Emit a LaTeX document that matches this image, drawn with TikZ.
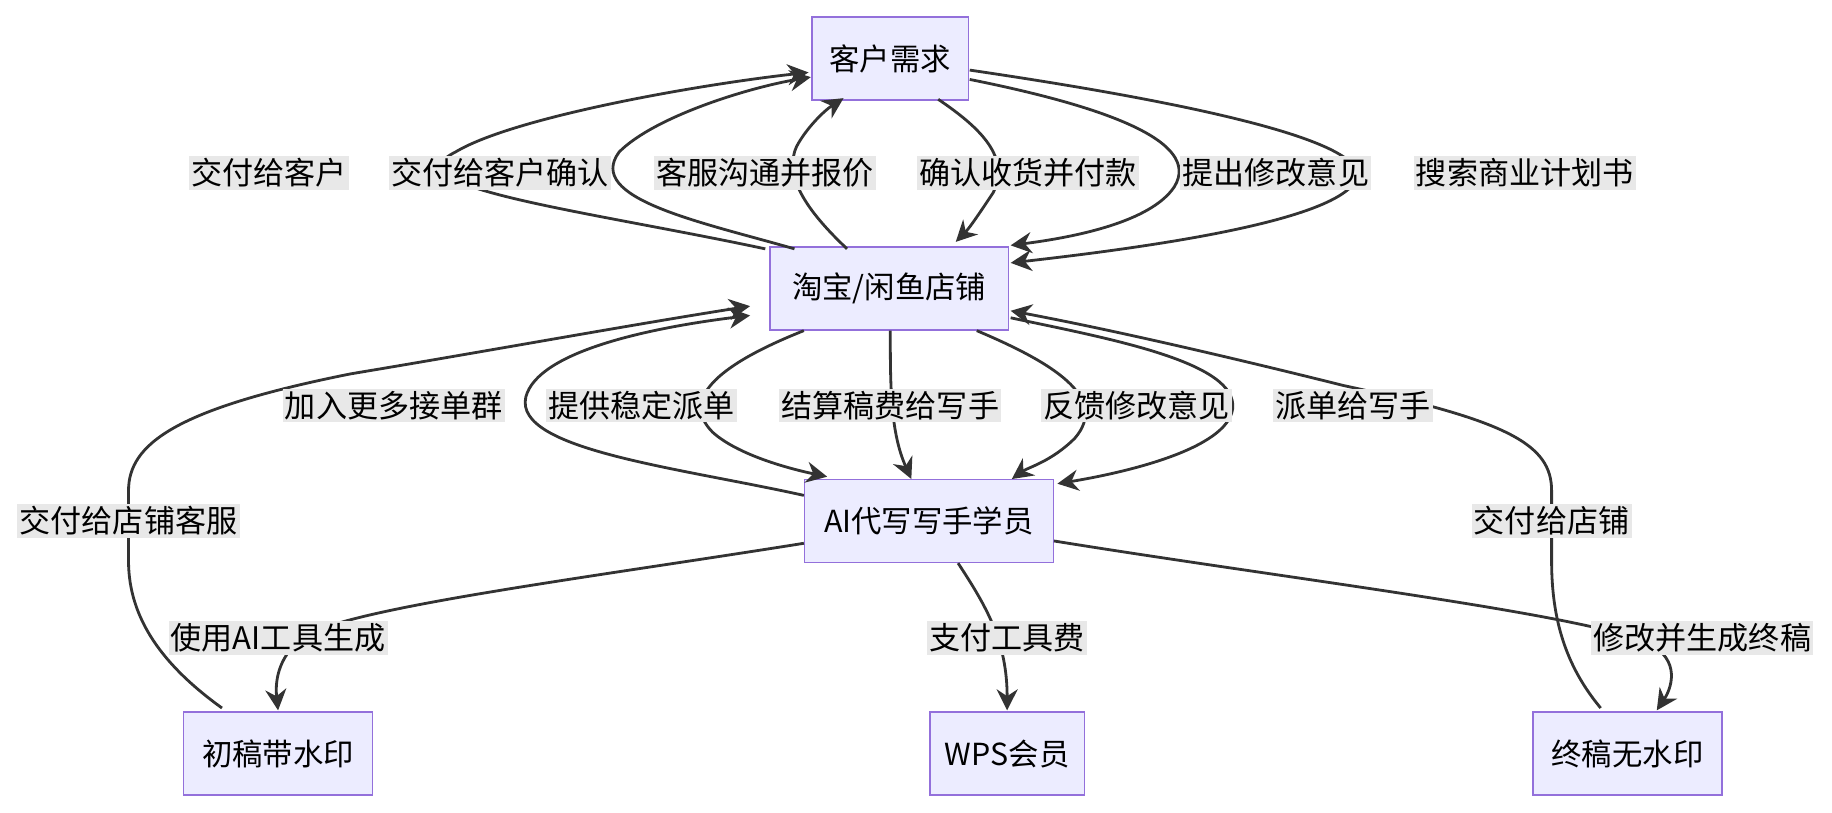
\documentclass[tikz,border=0pt]{standalone}
\usepackage{fontspec}
\setmainfont{Noto Sans CJK SC}
\usetikzlibrary{arrows.meta}
\definecolor{boxfill}{HTML}{ECECFF}
\definecolor{boxline}{HTML}{9370DB}
\definecolor{lblbg}{HTML}{E8E8E8}
\definecolor{edge}{HTML}{333333}
\begin{document}
\begin{tikzpicture}[x=0.5pt,y=-0.5pt,
  box/.style={draw=boxline,fill=boxfill,line width=0.6pt,minimum height=35.5pt,inner xsep=6pt,font=\fontsize{13pt}{15pt}\selectfont},
  lbl/.style={fill=lblbg,inner sep=1pt,font=\fontsize{13.3pt}{15pt}\selectfont},
  e/.style={draw=edge,line width=1.2pt,-{Stealth[length=9pt,width=9pt]}},
  l/.style={draw=edge,line width=1.2pt}]
\useasboundingbox (0,0) rectangle (1568,695);
\node [box,minimum width=67pt] (need) at (762,50) {客户需求};
\node [box,minimum width=102pt] (shop) at (761,247) {淘宝/闲鱼店铺};
\node [box,minimum width=106.5pt] (ai) at (795,446) {AI代写写手学员};
\node [box,minimum width=81pt] (draft) at (238,645) {初稿带水印};
\node [box,minimum width=66pt] (wps) at (862,645) {WPS会员};
\node [box,minimum width=81pt] (final) at (1393,645) {终稿无水印};
% shop <-> need
\draw [e] (655,213) .. controls (500,180) and (330,160) .. (390,130) .. controls (440,100) and (600,72) .. (692,62);
\draw [e] (680,213) .. controls (600,190) and (500,170) .. (530,130) .. controls (560,100) and (640,75) .. (694,66);
\draw [e] (725,213) .. controls (690,180) and (670,150) .. (682,125) .. controls (690,110) and (705,95) .. (722,84);
\draw [e] (803,85) .. controls (840,110) and (865,135) .. (850,165) .. controls (840,180) and (830,195) .. (818,207);
\draw [e] (830,68) .. controls (940,90) and (1030,120) .. (1005,160) .. controls (985,190) and (920,203) .. (865,210);
\draw [e] (830,60) .. controls (1000,85) and (1180,120) .. (1160,155) .. controls (1140,190) and (980,212) .. (865,225);
% shop <-> ai
\draw [e] (190,606) .. controls (140,570) and (110,530) .. (110,480) -- (110,420) .. controls (110,380) and (150,350) .. (300,320) .. controls (420,300) and (540,278) .. (642,262);
\draw [e] (688,424) .. controls (580,400) and (440,385) .. (450,340) .. controls (460,300) and (560,280) .. (642,270);
\draw [e] (688,283) .. controls (620,310) and (580,340) .. (610,370) .. controls (630,388) and (670,400) .. (708,408);
\draw [e] (762,283) .. controls (762,330) and (762,370) .. (780,410);
\draw [e] (836,283) .. controls (900,310) and (950,340) .. (920,375) .. controls (900,395) and (880,400) .. (866,410);
\draw [e] (865,272) .. controls (950,290) and (1060,310) .. (1055,350) .. controls (1050,385) and (960,405) .. (905,414);
\draw [e] (1370,606) .. controls (1340,570) and (1328,530) .. (1328,480) -- (1328,420) .. controls (1328,380) and (1290,360) .. (1150,330) .. controls (1050,305) and (950,282) .. (865,266);
% ai -> outputs
\draw [e] (688,465) .. controls (500,495) and (300,520) .. (260,545) .. controls (240,560) and (235,580) .. (238,608);
\draw [e] (820,482) .. controls (845,520) and (862,550) .. (862,608);
\draw [e] (902,463) .. controls (1100,495) and (1350,525) .. (1410,550) .. controls (1440,565) and (1430,590) .. (1418,608);
% labels
\node [lbl] (t1) at (230,148) {交付给客户};
\node [lbl] (t2) at (428,148) {交付给客户确认};
\node [lbl] (t3) at (655,148) {客服沟通并报价};
\node [lbl] (t4) at (880,148) {确认收货并付款};
\node [lbl] (t5) at (1092,148) {提出修改意见};
\node [lbl] (t6) at (1305,148) {搜索商业计划书};
\node [lbl] (t7) at (337,347) {加入更多接单群};
\node [lbl] (t8) at (549,347) {提供稳定派单};
\node [lbl] (t9) at (762,347) {结算稿费给写手};
\node [lbl] (t10) at (973,347) {反馈修改意见};
\node [lbl] (t11) at (1158,347) {派单给写手};
\node [lbl] (t12) at (110,446) {交付给店铺客服};
\node [lbl] (t13) at (1328,446) {交付给店铺};
\node [lbl] (t14) at (238,546) {使用AI工具生成};
\node [lbl] (t15) at (862,546) {支付工具费};
\node [lbl] (t16) at (1457,546) {修改并生成终稿};
\end{tikzpicture}
\end{document}
